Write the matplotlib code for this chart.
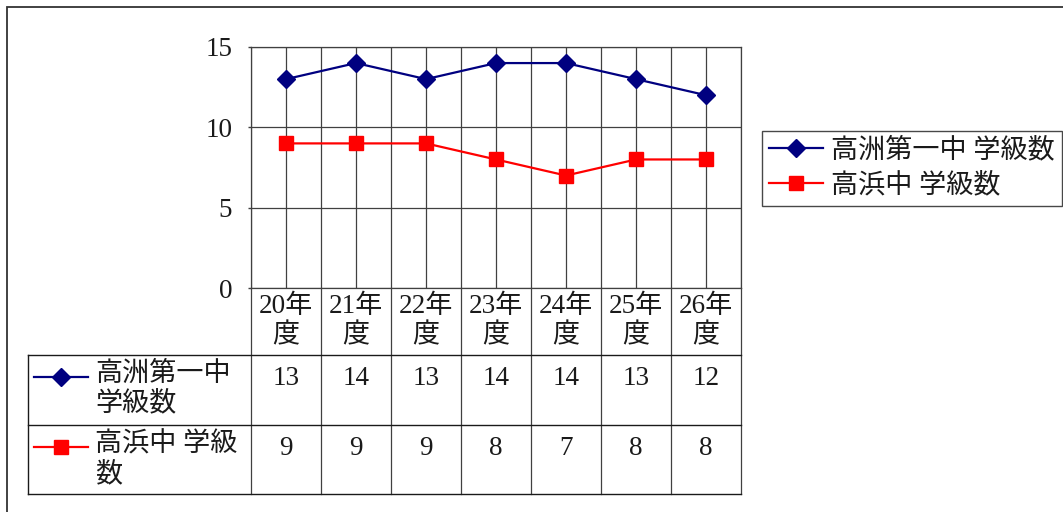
import matplotlib
matplotlib.use("Agg")
import matplotlib.pyplot as plt
from matplotlib.lines import Line2D
from matplotlib.patches import Rectangle
from matplotlib.transforms import blended_transform_factory

plt.rcParams["font.family"] = ["Liberation Serif", "Noto Sans CJK JP"]

# data
categories = ["20年\n度", "21年\n度", "22年\n度", "23年\n度", "24年\n度", "25年\n度", "26年\n度"]
takasu = [13, 14, 13, 14, 14, 13, 12]
takahama = [9, 9, 9, 8, 7, 8, 8]
series_names = ["高洲第一中 学級数", "高浜中 学級数"]
table_names = ["高洲第一中\n学級数", "高浜中 学級\n数"]
y_ticks = [0, 5, 10, 15]

NAVY = "#000080"
RED = "#ff0000"
GRID = "#404040"
INK = "#1a1a1a"
FS = 19.5

W, H = 1063, 512
fig = plt.figure(figsize=(W / 100, H / 100), dpi=100)
fig.patch.set_facecolor("white")


def fx(px):
    return px / W


def fy(py):
    return 1 - py / H


# outer chart frame (right/bottom run off the image)
fig.add_artist(Rectangle((fx(7), fy(520)), fx(1070) - fx(7), fy(7) - fy(520),
                         transform=fig.transFigure, fill=False, edgecolor="#333333", lw=1.3))

# plot area 251..741 x 47..288
ax = fig.add_axes([fx(251), fy(288), fx(741) - fx(251), fy(47) - fy(288)])
x = list(range(len(categories)))
ax.plot(x, takasu, color=NAVY, lw=1.6, marker="D", markersize=9.5, zorder=4, label=series_names[0])
ax.plot(x, takahama, color=RED, lw=1.6, marker="s", markersize=10.5, zorder=4, label=series_names[1])

ax.set_xlim(-0.5, len(categories) - 0.5)
ax.set_ylim(0, 15)
ax.set_yticks(y_ticks)
ax.set_yticklabels([str(v) for v in y_ticks], fontsize=FS, color=INK)
ax.set_xticks(x)
ax.set_xticks([i - 0.5 for i in range(len(categories) + 1)], minor=True)
ax.set_xticklabels([])
ax.tick_params(axis="x", which="both", length=0)
ax.tick_params(axis="y", length=2.5, width=1, color=GRID, pad=11)
ax.grid(True, axis="y", color=GRID, lw=0.9)
ax.grid(True, axis="x", which="both", color=GRID, lw=0.9)
for s in ax.spines.values():
    s.set_color(GRID)
    s.set_linewidth(0.9)
ax.set_axisbelow(True)

# data table below the plot
blend = blended_transform_factory(ax.transData, fig.transFigure)
row_tops = [288, 355, 425, 494]
for b in [i - 0.5 for i in range(len(categories) + 1)]:
    fig.add_artist(Line2D([b, b], [fy(288), fy(494)], transform=blend, color=GRID, lw=0.9))
for yy in row_tops[1:]:
    fig.add_artist(Line2D([fx(28), fx(741)], [fy(yy), fy(yy)], transform=fig.transFigure,
                          color=INK, lw=1.0))
fig.add_artist(Line2D([fx(28), fx(28)], [fy(355), fy(494)], transform=fig.transFigure,
                      color=INK, lw=1.0))

for i, c in enumerate(categories):
    fig.text(i, fy(294), c, transform=blend, ha="center", va="top",
             fontsize=FS, color=INK, linespacing=1.2)

rows = [(takasu, NAVY, "D", 9.5), (takahama, RED, "s", 10.5)]
for r, (vals, col, mk, ms) in enumerate(rows):
    top = row_tops[r + 1]
    for i, v in enumerate(vals):
        fig.text(i, fy(top + 11), str(v), transform=blend, ha="center", va="top",
                 fontsize=FS, color=INK)
    ky = fy(top + 22)
    fig.add_artist(Line2D([fx(34), fx(88)], [ky, ky], transform=fig.transFigure, color=col, lw=1.6))
    fig.add_artist(Line2D([fx(61)], [ky], transform=fig.transFigure, color=col, marker=mk,
                          markersize=ms, lw=0))
    fig.text(fx(95), fy(top + 7), table_names[r], ha="left", va="top",
             fontsize=FS, color=INK, linespacing=1.2)

# legend at right
leg = fig.legend(loc="upper left", bbox_to_anchor=(fx(762), fy(131)), fontsize=FS,
                 frameon=True, fancybox=False, edgecolor=INK, handlelength=2.0,
                 borderpad=0.25, labelspacing=0.35, handletextpad=0.3, borderaxespad=0)
leg.get_frame().set_linewidth(1.0)
for t in leg.get_texts():
    t.set_color(INK)

fig.savefig("out.png", dpi=100, facecolor="white")
